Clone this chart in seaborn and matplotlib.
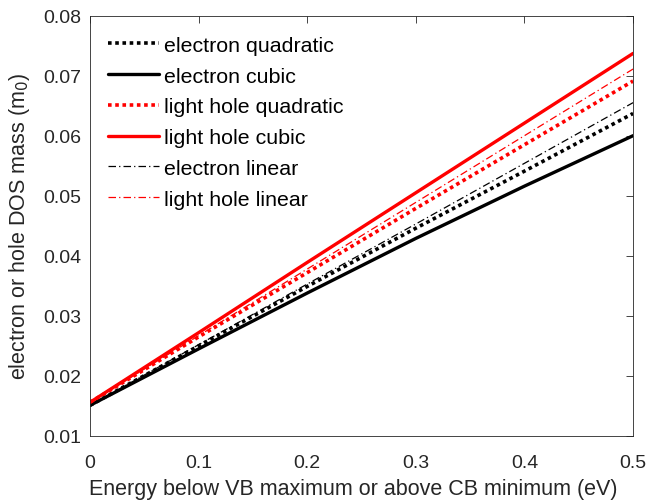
import matplotlib
matplotlib.use("Agg")
import matplotlib.pyplot as plt
import seaborn as sns
import pandas as pd

# Energy grid (eV) and DOS effective masses (units of m0)
energy = [0.0, 0.1, 0.2, 0.3, 0.4, 0.5]
electron_quadratic = [0.0151, 0.0250, 0.0349, 0.0446, 0.0541, 0.0637]
electron_cubic = [0.0151, 0.0245, 0.0338, 0.0429, 0.0516, 0.0600]
light_hole_quadratic = [0.0156, 0.0265, 0.0372, 0.0479, 0.0585, 0.0691]
light_hole_cubic = [0.0156, 0.0272, 0.0389, 0.0505, 0.0621, 0.0737]
electron_linear = [0.0151, 0.0252, 0.0353, 0.0453, 0.0554, 0.0655]
light_hole_linear = [0.0156, 0.0267, 0.0378, 0.0489, 0.0600, 0.0711]

series = [
    ("electron quadratic", electron_quadratic, "black", (0, (1, 1)), 2.6),
    ("electron cubic", electron_cubic, "black", "-", 2.4),
    ("light hole quadratic", light_hole_quadratic, "red", (0, (1, 1)), 2.6),
    ("light hole cubic", light_hole_cubic, "red", "-", 2.4),
    ("electron linear", electron_linear, "black", (0, (6, 2.5, 1, 2.5)), 0.9),
    ("light hole linear", light_hole_linear, "red", (0, (6, 2.5, 1, 2.5)), 0.9),
]

sns.set_theme(style="white")
plt.rcParams["font.family"] = ["Liberation Sans", "DejaVu Sans"]

fig = plt.figure(figsize=(6.46, 5.02), dpi=100)
ax = fig.add_axes([0.1393, 0.1295, 0.8407, 0.8375])

for name, vals, color, ls, lw in series:
    df = pd.DataFrame({"energy": energy, "mass": vals})
    sns.lineplot(data=df, x="energy", y="mass", ax=ax, color=color,
                 linestyle=ls, linewidth=lw, label=name)

ax.set_xlim(0, 0.5)
ax.set_ylim(0.01, 0.08)
ax.set_xticks([0, 0.1, 0.2, 0.3, 0.4, 0.5])
ax.set_xticklabels(["0", "0.1", "0.2", "0.3", "0.4", "0.5"])
ax.set_yticks([0.01, 0.02, 0.03, 0.04, 0.05, 0.06, 0.07, 0.08])
ax.set_yticklabels(["0.01", "0.02", "0.03", "0.04", "0.05", "0.06", "0.07", "0.08"])

axis_gray = "#262626"
for sp in ax.spines.values():
    sp.set_visible(True)
    sp.set_color(axis_gray)
    sp.set_linewidth(0.6)
ax.tick_params(direction="in", length=5, width=0.6, colors=axis_gray,
               top=True, right=True, labelsize=14, labelcolor=axis_gray)
ax.tick_params(axis="x", pad=13)
ax.tick_params(axis="y", pad=6)

ax.set_xlabel("Energy below VB maximum or above CB minimum (eV)",
              fontsize=15.5, color=axis_gray, labelpad=5)
ax.xaxis.label.set_x(0.484)
ax.set_ylabel("electron or hole DOS mass (m$_0$)", fontsize=15.5,
              color=axis_gray, labelpad=8)

leg = ax.legend(loc="upper left", frameon=False, fontsize=15.4,
                handlelength=2.4, handletextpad=0.22, labelspacing=0.55,
                borderaxespad=0.0, borderpad=0.0, bbox_to_anchor=(0.033, 0.952))
for t in leg.get_texts():
    t.set_color("black")

fig.savefig("out.png", dpi=100)
